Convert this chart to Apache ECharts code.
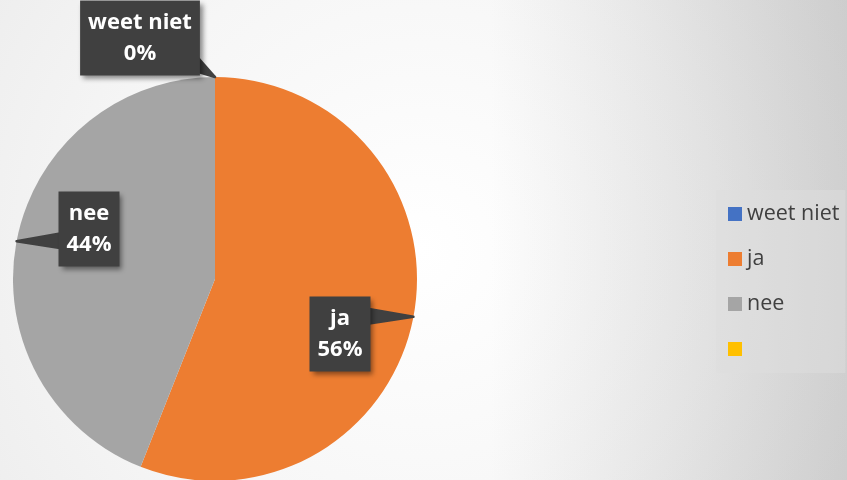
<!DOCTYPE html>
<html><head><meta charset="utf-8">
<script src="https://cdn.jsdelivr.net/npm/echarts@6/dist/echarts.min.js"></script>
<style>
html,body{margin:0;padding:0;width:847px;height:480px;overflow:hidden;}
body{
  background-image:
    radial-gradient(circle 620px at 420px 250px, #ffffff 0%, #f6f6f6 50%, #eeeeee 80%, #e9e9e9 100%),
    linear-gradient(to right, #ffffff 0%, #ffffff 58%, #dcdcdc 100%);
  background-blend-mode: multiply;
}
#c{width:847px;height:480px;}
</style></head>
<body><div id="c"></div>
<script>
// ---- data ----
const categories = ['weet niet', 'ja', 'nee', ' '];
const values = [0, 56, 44, 0];
const colors = ['#4472C4', '#ED7D31', '#A5A5A5', '#FFC000'];

// ---- callout placement (layout only) ----
const labelCenters = { 'weet niet': [140, 38], 'ja': [340, 334], 'nee': [89, 229] };

const chart = echarts.init(document.getElementById('c'), null, { renderer: 'canvas' });

function clamp(v, a, b) { return Math.max(a, Math.min(b, v)); }

const sectorData = categories.map(function (name, i) {
  return { name: name, value: values[i], itemStyle: { color: colors[i] } };
});
const labelData = categories.map(function (name, i) {
  const item = { name: name, value: values[i] };
  if (!name.trim()) {
    item.label = { show: false };
    item.labelLine = { show: false };
  }
  return item;
});

const pieCommon = {
  type: 'pie',
  center: [215, 279],
  radius: 202,
  startAngle: 90,
  clockwise: true,
  avoidLabelOverlap: false,
  stillShowZeroSum: true,
  emphasis: { disabled: true }
};

chart.setOption({
  backgroundColor: 'transparent',
  animation: false,
  legend: {
    orient: 'vertical',
    left: 716,
    top: 190,
    padding: [13, 6, 13, 12],
    itemGap: 23,
    itemWidth: 14,
    itemHeight: 14,
    icon: 'rect',
    backgroundColor: 'rgba(222,222,222,0.5)',
    selectedMode: false,
    textStyle: { fontSize: 21.5, lineHeight: 21, color: '#404040', fontFamily: 'Open Sans' },
    data: categories
  },
  series: [
    Object.assign({}, pieCommon, {
      name: 'sectors',
      z: 2,
      itemStyle: { borderWidth: 0 },
      label: { show: false },
      labelLine: { show: false },
      data: sectorData
    }),
    Object.assign({}, pieCommon, {
      name: 'callouts',
      z: 5,
      silent: true,
      itemStyle: { color: 'rgba(0,0,0,0)', borderWidth: 0 },
      label: {
        show: true,
        position: 'outside',
        formatter: '{b}\n{d}%',
        color: '#ffffff',
        fontWeight: 'bold',
        fontSize: 22,
        lineHeight: 31,
        fontFamily: 'Open Sans',
        backgroundColor: '#404040',
        padding: [7, 8, 6, 8],
        shadowColor: 'rgba(0,0,0,0.45)',
        shadowBlur: 5,
        shadowOffsetX: 3,
        shadowOffsetY: 3
      },
      labelLine: {
        show: true,
        lineStyle: { color: '#404040', width: 2.5, join: 'round' }
      },
      labelLayout: function (p) {
        const name = categories[p.dataIndex];
        const c = labelCenters[name];
        if (!c || !p.labelLinePoints) return {};
        const tip = p.labelLinePoints[0];
        const w = p.labelRect.width, h = p.labelRect.height;
        const L = c[0] - w / 2, R = c[0] + w / 2, T = c[1] - h / 2, B = c[1] + h / 2;
        const pts = [];
        const bx = tip[0] > R ? R - 3 : L + 3;
        const yc = clamp(tip[1], T + 11, B - 11);
        for (let k = -8; k <= 8; k += 1.5) { pts.push([tip[0], tip[1]]); pts.push([bx, yc + k]); }
        pts.push([tip[0], tip[1]]);
        return { x: c[0], y: c[1], align: 'center', verticalAlign: 'middle', labelLinePoints: pts };
      },
      data: labelData
    })
  ]
});
</script>
</body></html>
